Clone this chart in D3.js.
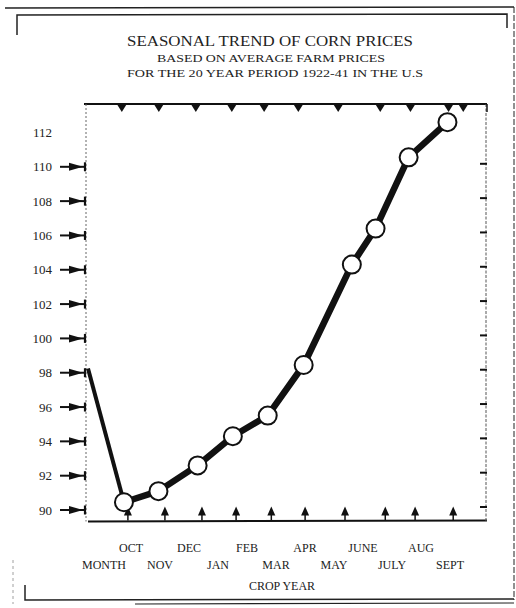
<!DOCTYPE html>
<html>
<head>
<meta charset="utf-8">
<script src="https://cdn.jsdelivr.net/npm/d3@7"></script>
<style>
  body { margin: 0; background: #fff; }
  svg { display: block; }
  text { font-family: "Liberation Serif", "DejaVu Serif", serif; fill: #222; }
</style>
</head>
<body>
<div id="chart"></div>
<script>
// month labels along the crop year
const months = ["OCT", "NOV", "DEC", "JAN", "FEB", "MAR", "APR", "MAY", "JUNE", "JULY", "AUG", "SEPT"];

// price index series, position along the crop year
const pointPos = [-1, 0, 0.96, 2.05, 3.03, 4, 5, 6.34, 7, 7.92, 9];
const prices = [98.25, 90.45, 91.1, 92.6, 94.3, 95.5, 98.45, 104.3, 106.4, 110.55, 112.6];

// axis ticks
const yLabels = [90, 92, 94, 96, 98, 100, 102, 104, 106, 108, 110, 112];
const yArrows = [90, 92, 94, 96, 98, 100, 102, 104, 106, 108, 110];
const topMarks = [-0.06, 0.97, 2.0, 3.0, 3.9, 4.85, 5.96, 7.13, 7.97, 9.03, 9.44];
const bottomMarks = [0.11, 1.14, 2.17, 3.12, 4.1, 5.04, 6.15, 7.27, 8.1, 9.16];

const width = 516, height = 608;

const svg = d3.select("#chart").append("svg")
  .attr("width", width)
  .attr("height", height);

const x = d3.scaleLinear().domain([-1, 10.1]).range([88, 487]);
const y = d3.scaleLinear().domain([89.33, 113.66]).range([521.5, 104]);
const xMonth = d3.scalePoint().domain(months).range([131, 450]);

const [x0, x1] = x.range();
const [yb, yt] = y.range();

// outer frame
const frame = svg.append("g").attr("fill", "none").attr("stroke", "#222");
frame.append("path").attr("d", "M5,8 L514,7").attr("stroke-width", 1.5);
frame.append("path").attr("d", "M17,35 L17,15 L507,14 L507,28").attr("stroke-width", 1.5);
frame.append("path").attr("d", "M514,7 L514,600").attr("stroke-width", 1).attr("stroke-dasharray", "6,2");
frame.append("path").attr("d", "M25,585 L25,600 L514,599").attr("stroke-width", 1.5);
frame.append("path").attr("d", "M135,604 L514,603").attr("stroke-width", 1.2);
frame.append("path").attr("d", "M13,560 L13,604").attr("stroke-width", 0.8).attr("stroke", "#888").attr("stroke-dasharray", "3,3");

// titles
svg.append("text").attr("x", 270).attr("y", 46).attr("text-anchor", "middle")
  .attr("font-size", 15).attr("textLength", 286).attr("lengthAdjust", "spacingAndGlyphs")
  .text("SEASONAL TREND OF CORN PRICES");
svg.append("text").attr("x", 271).attr("y", 62).attr("text-anchor", "middle")
  .attr("font-size", 11).attr("textLength", 228).attr("lengthAdjust", "spacingAndGlyphs")
  .text("BASED ON AVERAGE FARM PRICES");
svg.append("text").attr("x", 275).attr("y", 77).attr("text-anchor", "middle")
  .attr("font-size", 11).attr("textLength", 296).attr("lengthAdjust", "spacingAndGlyphs")
  .text("FOR THE 20 YEAR PERIOD 1922-41 IN THE U.S");

// plot box
const box = svg.append("g").attr("fill", "none");
box.append("line").attr("x1", x0 - 4).attr("x2", x1).attr("y1", yt).attr("y2", yt)
  .attr("stroke", "#111").attr("stroke-width", 2);
box.append("line").attr("x1", x0).attr("x2", x1).attr("y1", yb).attr("y2", yb - 1)
  .attr("stroke", "#111").attr("stroke-width", 2);
box.append("line").attr("x1", x0 - 2).attr("x2", x0 - 2).attr("y1", yt).attr("y2", yb)
  .attr("stroke", "#666").attr("stroke-width", 1).attr("stroke-dasharray", "2,2");
box.append("line").attr("x1", x1 - 1).attr("x2", x1 - 1).attr("y1", yt).attr("y2", yb)
  .attr("stroke", "#555").attr("stroke-width", 1).attr("stroke-dasharray", "3,1.5");
box.append("line").attr("x1", x1).attr("x2", x1).attr("y1", yt).attr("y2", yt + 8)
  .attr("stroke", "#111").attr("stroke-width", 1.5);

// y labels
svg.append("g").selectAll("text").data(yLabels).join("text")
  .attr("x", 52).attr("y", d => y(d) + 4.5)
  .attr("text-anchor", "end").attr("font-size", 13)
  .text(d => d);

// left arrow ticks
const arrows = svg.append("g").selectAll("g").data(yArrows).join("g")
  .attr("transform", d => `translate(0,${y(d)})`);
arrows.append("line").attr("x1", 60).attr("x2", 86).attr("y1", 0).attr("y2", 0)
  .attr("stroke", "#111").attr("stroke-width", 2);
arrows.append("path").attr("d", "M69,-4 L83,0 L69,4 Z").attr("fill", "#111");
arrows.append("line").attr("x1", 85).attr("x2", 85).attr("y1", -4.5).attr("y2", 4.5)
  .attr("stroke", "#111").attr("stroke-width", 2.2);

// right edge ticks
svg.append("g").selectAll("line").data(yArrows).join("line")
  .attr("x1", x1 - 7).attr("x2", x1).attr("y1", d => y(d) - 3).attr("y2", d => y(d) - 3)
  .attr("stroke", "#111").attr("stroke-width", 2);

// top triangles
svg.append("g").selectAll("path").data(topMarks).join("path")
  .attr("d", d => `M${x(d) - 5},${yt} L${x(d) + 5},${yt} L${x(d)},${yt + 8} Z`)
  .attr("fill", "#111");

// bottom arrows
const up = svg.append("g").selectAll("g").data(bottomMarks).join("g")
  .attr("transform", d => `translate(${x(d)},${yb - 1})`);
up.append("line").attr("y1", 0).attr("y2", -8).attr("stroke", "#111").attr("stroke-width", 1.5);
up.append("path").attr("d", "M-4,-5 L4,-5 L0,-14 Z").attr("fill", "#111");

// the series line: thinner lead-in from the left edge, heavy line through the months
const lead = prices.slice(0, 2);
const main = prices.slice(1);
svg.append("path").datum(lead)
  .attr("d", d3.line().x((d, i) => x(pointPos[i])).y(d => y(d)))
  .attr("fill", "none").attr("stroke", "#111").attr("stroke-width", 4);
svg.append("path").datum(main)
  .attr("d", d3.line().x((d, i) => x(pointPos[i + 1])).y(d => y(d)))
  .attr("fill", "none").attr("stroke", "#111").attr("stroke-width", 6.5)
  .attr("stroke-linejoin", "round");

svg.append("g").selectAll("circle").data(main).join("circle")
  .attr("cx", (d, i) => x(pointPos[i + 1]))
  .attr("cy", d => y(d))
  .attr("r", 9)
  .attr("fill", "#fff").attr("stroke", "#111").attr("stroke-width", 2);

// month labels, staggered on two rows
svg.append("g").selectAll("text").data(months).join("text")
  .attr("x", d => xMonth(d))
  .attr("y", (d, i) => i % 2 === 0 ? 552 : 569)
  .attr("text-anchor", "middle").attr("font-size", 12)
  .text(d => d);
svg.append("text").attr("x", 104).attr("y", 569).attr("text-anchor", "middle")
  .attr("font-size", 12).text("MONTH");
svg.append("text").attr("x", 282).attr("y", 590).attr("text-anchor", "middle")
  .attr("font-size", 12).text("CROP YEAR");
</script>
</body>
</html>
